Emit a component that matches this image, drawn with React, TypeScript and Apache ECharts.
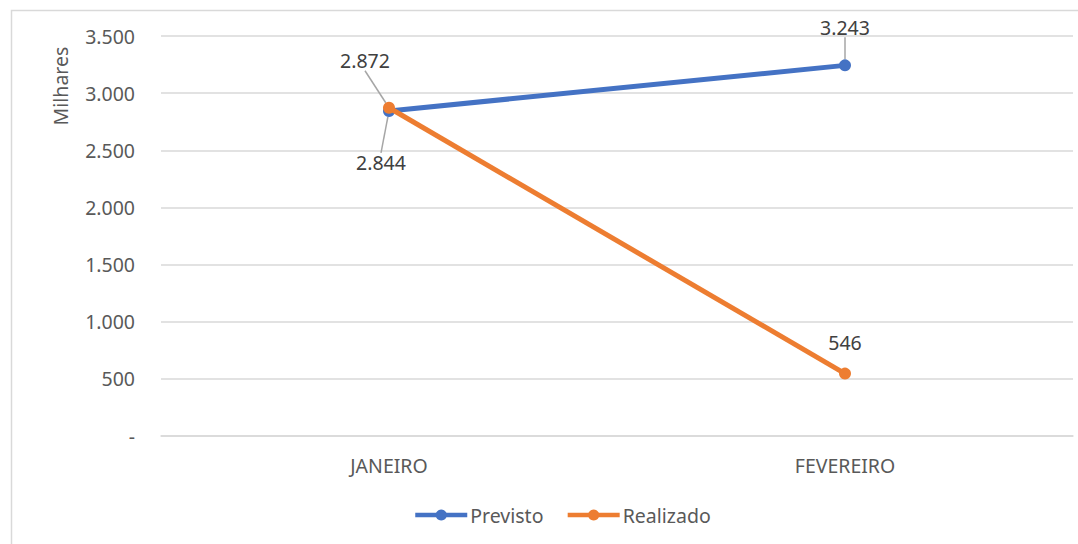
import React, { useEffect, useRef } from "react";
import * as echarts from "echarts";

const categories = ["JANEIRO", "FEVEREIRO"];
const previsto = [2844, 3243];
const realizado = [2872, 546];
const yTicks = [0, 500, 1000, 1500, 2000, 2500, 3000, 3500];

const fmt = (v: number) => {
  if (v === 0) return "-";
  const s = Math.round(v).toString();
  return s.replace(/\B(?=(\d{3})+(?!\d))/g, ".");
};

const FONT = "'Noto Sans', 'Open Sans', sans-serif";
const FS = 19.5;

export default function App() {
  const ref = useRef<HTMLDivElement>(null);
  useEffect(() => {
    if (!ref.current) return;
    const chart = echarts.init(ref.current, null, { renderer: "svg" });
    const labelLine = { show: true, lineStyle: { color: "#a6a6a6", width: 1.5 } };
    chart.setOption({
      animation: false,
      backgroundColor: "#ffffff",
      textStyle: { fontFamily: FONT },
      grid: { left: 161, right: 5, top: 36, bottom: 108 },
      graphic: [
        {
          type: "rect",
          shape: { x: 11.5, y: 10.5, width: 1070, height: 545 },
          style: { fill: "none", stroke: "#d9d9d9", lineWidth: 1.5 },
          silent: true,
        },
        {
          type: "text",
          x: 60,
          y: 86,
          rotation: Math.PI / 2,
          style: {
            text: "Milhares",
            fontSize: FS,
            fontFamily: FONT,
            fill: "#595959",
            align: "center",
            verticalAlign: "middle",
          },
        },
      ],
      legend: {
        bottom: 14,
        left: 408,
        itemWidth: 52,
        itemHeight: 14,
        itemGap: 22,
        textStyle: { fontSize: FS, color: "#595959", fontFamily: FONT, padding: [0, 0, 0, -2] },
        data: [
          { name: "Previsto", lineStyle: { width: 4.5 } },
          { name: "Realizado", lineStyle: { width: 4.5 } },
        ],
      },
      xAxis: {
        type: "category",
        data: categories,
        boundaryGap: true,
        axisLine: { show: true, lineStyle: { color: "#d9d9d9", width: 1.5 } },
        axisTick: { show: false },
        axisLabel: { fontSize: FS, color: "#595959", margin: 19, fontFamily: FONT },
      },
      yAxis: {
        type: "value",
        min: yTicks[0],
        max: yTicks[yTicks.length - 1],
        interval: 500,
        axisLine: { show: false },
        axisTick: { show: false },
        splitLine: { lineStyle: { color: "#d9d9d9", width: 1.5 } },
        axisLabel: { fontSize: FS, color: "#595959", margin: 26, fontFamily: FONT, formatter: (v: number) => fmt(v) },
      },
      series: [
        {
          name: "Previsto",
          type: "line",
          data: previsto,
          color: "#4472c4",
          lineStyle: { width: 5, color: "#4472c4" },
          symbol: "circle",
          symbolSize: 12,
          itemStyle: { color: "#4472c4" },
          z: 2,
          label: {
            show: true,
            fontSize: FS,
            color: "#404040",
            fontFamily: FONT,
            formatter: (p: any) => fmt(p.value),
            position: "top",
          },
          labelLine,
          labelLayout: (p: any) => (p.dataIndex === 0 ? { dx: -8, dy: 73 } : { dx: 0, dy: -17 }),
        },
        {
          name: "Realizado",
          type: "line",
          data: realizado.map((v, i) => (i === 1 ? { value: v, labelLine: { show: false } } : v)),
          color: "#ed7d31",
          lineStyle: { width: 5, color: "#ed7d31" },
          symbol: "circle",
          symbolSize: 12,
          itemStyle: { color: "#ed7d31" },
          z: 3,
          label: {
            show: true,
            fontSize: FS,
            color: "#404040",
            fontFamily: FONT,
            formatter: (p: any) => fmt(p.value),
            position: "top",
          },
          labelLine,
          labelLayout: (p: any) => (p.dataIndex === 0 ? { dx: -24, dy: -26 } : { dx: 0, dy: -10 }),
        },
      ],
    });
    return () => chart.dispose();
  }, []);
  return (
    <div
      ref={ref}
      style={{ position: "fixed", left: 0, top: 0, width: 1078, height: 544 }}
    />
  );
}
